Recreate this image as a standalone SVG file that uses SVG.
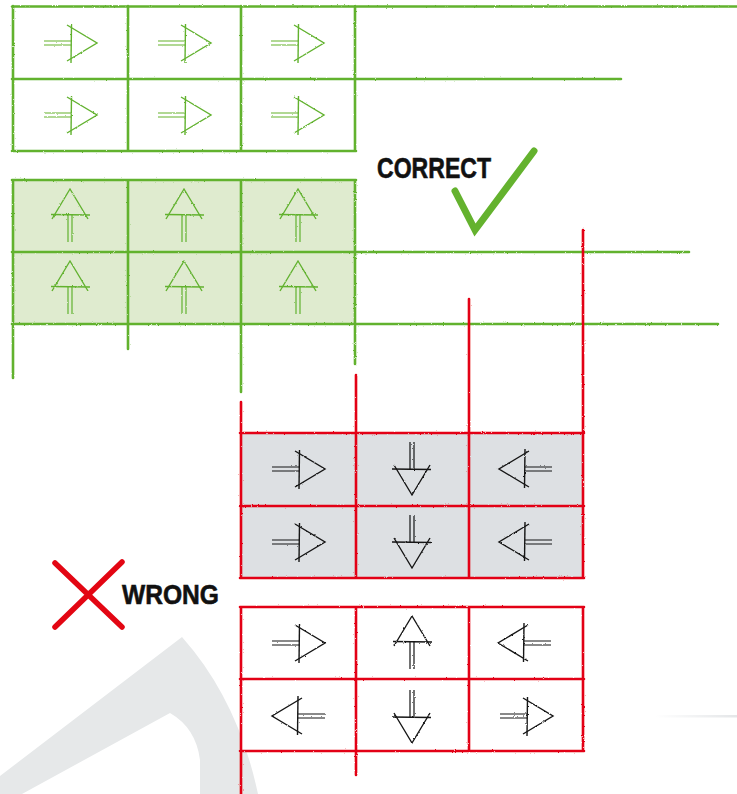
<svg xmlns="http://www.w3.org/2000/svg" width="737" height="794" viewBox="0 0 737 794">
<style>
.g{stroke:#62b22f;stroke-width:2.6;fill:none;stroke-linecap:round}
.r{stroke:#e30613;stroke-width:2.6;fill:none;stroke-linecap:round}
.lbl{font-family:"Liberation Sans",Arial,sans-serif;font-weight:bold;fill:#111;stroke:#111;stroke-width:0.6}
.ga{color:#62b22f}
.ka{color:#151515}
</style>
<defs>
<filter id="rough" filterUnits="userSpaceOnUse" x="0" y="0" width="737" height="794">
<feTurbulence type="fractalNoise" baseFrequency="0.9" numOctaves="2" seed="3"/>
<feDisplacementMap in="SourceGraphic" scale="2" xChannelSelector="R" yChannelSelector="G"/>
</filter>
<linearGradient id="fade" x1="0" x2="1" y1="0" y2="0">
<stop offset="0" stop-color="#e4e6e8" stop-opacity="0"/>
<stop offset="1" stop-color="#e4e6e8"/>
</linearGradient>
<g id="arr" fill="none" stroke="currentColor" stroke-width="1.4">
<path d="M-27,-2H0M-27,2H0" stroke-width="1.2"/>
<path d="M0.5,-19L0,20"/>
<path d="M-4,-18L26,0L-4,18"/>
</g>
</defs>

<g id="watermark">
<path d="M0,776 L182,637 Q238,700 258,794 L200,794 L200,760 Q196,728 170,713 L22,794 L0,794 Z" fill="#e6e8e9"/>
<rect x="655" y="715" width="82" height="2.5" fill="url(#fade)"/>
</g>

<g id="green-grid-top" filter="url(#rough)">
<path class="g" d="M12,6.5H737M12,79H621M12,151H356M13,6V151M128,6V151M241,6V151M355,6V151"/>
<g class="ga">
<use href="#arr" x="71" y="43"/>
<use href="#arr" x="185" y="43"/>
<use href="#arr" x="298" y="43"/>
<use href="#arr" x="71" y="115"/>
<use href="#arr" x="185" y="115"/>
<use href="#arr" x="298" y="115"/>
</g>
</g>

<g id="green-grid-shaded" filter="url(#rough)">
<rect x="13" y="180" width="342" height="144" fill="#dfebcf"/>
<path class="g" d="M12,180H356M12,252H689M12,324H718M13,180V378M128,180V349M241,180V392M355,180V364"/>
<g class="ga">
<use href="#arr" transform="translate(70,215) rotate(-90)"/>
<use href="#arr" transform="translate(184,215) rotate(-90)"/>
<use href="#arr" transform="translate(298,215) rotate(-90)"/>
<use href="#arr" transform="translate(70,287) rotate(-90)"/>
<use href="#arr" transform="translate(184,287) rotate(-90)"/>
<use href="#arr" transform="translate(298,287) rotate(-90)"/>
</g>
</g>

<g id="correct-label">
<text class="lbl" x="377" y="178" font-size="29" textLength="114" lengthAdjust="spacingAndGlyphs">CORRECT</text>
<path d="M455,191 L475,230 L534,151" fill="none" stroke="#64b22e" stroke-width="7" stroke-linecap="round" stroke-linejoin="miter"/>
</g>

<g id="red-grid-shaded" filter="url(#rough)">
<rect x="241" y="433" width="342" height="145" fill="#dde0e3"/>
<path class="r" d="M240,433H584M240,506H584M240,578H584M241,402V578M356,375V578M469,299V578M583,230V578"/>
<g class="ka">
<use href="#arr" x="299" y="469"/>
<use href="#arr" transform="translate(412,469) rotate(90)"/>
<use href="#arr" transform="translate(525,469) rotate(180)"/>
<use href="#arr" x="299" y="542"/>
<use href="#arr" transform="translate(412,542) rotate(90)"/>
<use href="#arr" transform="translate(525,542) rotate(180)"/>
</g>
</g>

<g id="red-grid-mixed" filter="url(#rough)">
<rect x="241" y="607" width="342" height="144" fill="#ffffff"/>
<path class="r" d="M240,607H584M240,679H584M240,751H584M241,607V794M356,607V775M469,607V751M583,607V751"/>
<g class="ka">
<use href="#arr" x="299" y="643"/>
<use href="#arr" transform="translate(412,642) rotate(-90)"/>
<use href="#arr" transform="translate(524,643) rotate(180)"/>
<use href="#arr" transform="translate(298,716) rotate(180)"/>
<use href="#arr" transform="translate(412,717) rotate(90)"/>
<use href="#arr" x="527" y="716"/>
</g>
</g>

<g id="wrong-label">
<path d="M55,563 L122,627 M122,562 L55,627" fill="none" stroke="#e30613" stroke-width="5.5" stroke-linecap="round"/>
<text class="lbl" x="122" y="604" font-size="28" textLength="97" lengthAdjust="spacingAndGlyphs">WRONG</text>
</g>
</svg>
